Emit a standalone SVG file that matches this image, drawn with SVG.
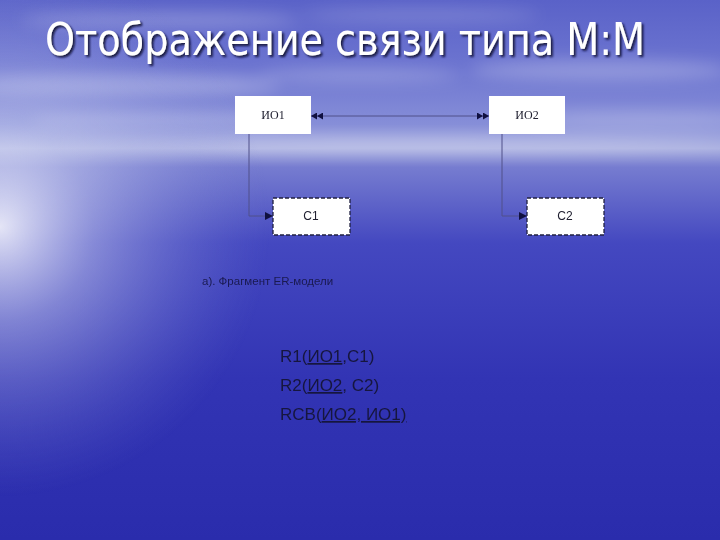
<svg xmlns="http://www.w3.org/2000/svg" width="720" height="540" viewBox="0 0 720 540">
<defs>
<linearGradient id="bg" x1="0" y1="0" x2="0" y2="1">
<stop offset="0" stop-color="#5a62c8"/>
<stop offset="0.12" stop-color="#6c74d0"/>
<stop offset="0.23" stop-color="#868ed8"/>
<stop offset="0.275" stop-color="#a8aee0"/>
<stop offset="0.31" stop-color="#767cd0"/>
<stop offset="0.45" stop-color="#4448c0"/>
<stop offset="0.7" stop-color="#3234b4"/>
<stop offset="1" stop-color="#2a2cac"/>
</linearGradient>
<radialGradient id="glow" cx="0" cy="0.42" r="0.5" gradientTransform="scale(0.75 1)">
<stop offset="0" stop-color="#ffffff" stop-opacity="0.85"/>
<stop offset="0.35" stop-color="#d8dcf4" stop-opacity="0.45"/>
<stop offset="1" stop-color="#8088d8" stop-opacity="0"/>
</radialGradient>
<filter id="blur" x="-20%" y="-50%" width="140%" height="200%"><feGaussianBlur stdDeviation="8"/></filter>
<filter id="shadow" x="-5%" y="-20%" width="110%" height="140%"><feDropShadow dx="2" dy="2" stdDeviation="0.8" flood-color="#0c0c30" flood-opacity="0.9"/></filter>
<marker id="dbl" viewBox="0 0 12 7" refX="12" refY="3.5" markerWidth="12" markerHeight="7" markerUnits="userSpaceOnUse" orient="auto-start-reverse">
<path d="M0,0 L6,3.5 L0,7 Z M6,0 L12,3.5 L6,7 Z" fill="#101040"/>
</marker>
<marker id="sgl" viewBox="0 0 8 8" refX="8" refY="4" markerWidth="8" markerHeight="8" markerUnits="userSpaceOnUse" orient="auto">
<path d="M0,0 L8,4 L0,8 Z" fill="#101040"/>
</marker>
<style>
.ent{fill:#ffffff;}
.weak{fill:#ffffff;stroke:#202040;stroke-width:1.3;stroke-dasharray:4 2;}
.serif{font-family:"Liberation Serif","Times New Roman",serif;font-size:12px;fill:#202030;text-anchor:middle;}
.sans{font-family:"Liberation Sans",Arial,sans-serif;font-size:12px;fill:#202030;text-anchor:middle;}
.conn{fill:none;stroke:#50508a;stroke-width:1;}
.rel{font-family:"Liberation Sans",Arial,sans-serif;font-size:17px;fill:#16163e;}
</style>
</defs>
<rect width="720" height="540" fill="url(#bg)"/>
<g filter="url(#blur)" fill="#ffffff">
<ellipse cx="160" cy="20" rx="140" ry="8" opacity="0.25"/>
<ellipse cx="420" cy="15" rx="120" ry="6" opacity="0.2"/>
<ellipse cx="600" cy="70" rx="130" ry="10" opacity="0.25"/>
<ellipse cx="120" cy="85" rx="160" ry="10" opacity="0.3"/>
<ellipse cx="360" cy="75" rx="100" ry="6" opacity="0.25"/>
<ellipse cx="640" cy="120" rx="120" ry="8" opacity="0.25"/>
<ellipse cx="160" cy="120" rx="130" ry="7" opacity="0.3"/>
<ellipse cx="400" cy="145" rx="340" ry="6" opacity="0.35"/>
</g>
<rect width="720" height="540" fill="url(#glow)"/>
<text x="45" y="55" font-family="'DejaVu Sans Condensed','DejaVu Sans',sans-serif" font-size="44" fill="#ffffff" textLength="600" lengthAdjust="spacingAndGlyphs" filter="url(#shadow)">Отображение связи типа M:M</text>
<g id="connectors">
<line class="conn" x1="311" y1="116" x2="489" y2="116" marker-start="url(#dbl)" marker-end="url(#dbl)"/>
<polyline class="conn" points="249,134 249,216 273,216" marker-end="url(#sgl)"/>
<polyline class="conn" points="502,134 502,216 527,216" marker-end="url(#sgl)"/>
</g>
<g id="io1">
<rect class="ent" x="235" y="96" width="76" height="38"/>
<text class="serif" x="273" y="119">ИО1</text>
</g>
<g id="io2">
<rect class="ent" x="489" y="96" width="76" height="38"/>
<text class="serif" x="527" y="119">ИО2</text>
</g>
<g id="c1">
<rect class="weak" x="273" y="198" width="77" height="37"/>
<text class="sans" x="311" y="220">C1</text>
</g>
<g id="c2">
<rect class="weak" x="527" y="198" width="77" height="37"/>
<text class="sans" x="565" y="220">C2</text>
</g>
<text x="202" y="285" font-family="'Liberation Sans',Arial,sans-serif" font-size="11.5" fill="#1a1a50">а). Фрагмент ER-модели</text>
<text class="rel" x="280" y="362">R1(<tspan text-decoration="underline">ИО1</tspan>,C1)</text>
<text class="rel" x="280" y="391">R2(<tspan text-decoration="underline">ИО2</tspan>, C2)</text>
<text class="rel" x="280" y="420">RCB(<tspan text-decoration="underline">ИО2, ИО1)</tspan></text>
</svg>
